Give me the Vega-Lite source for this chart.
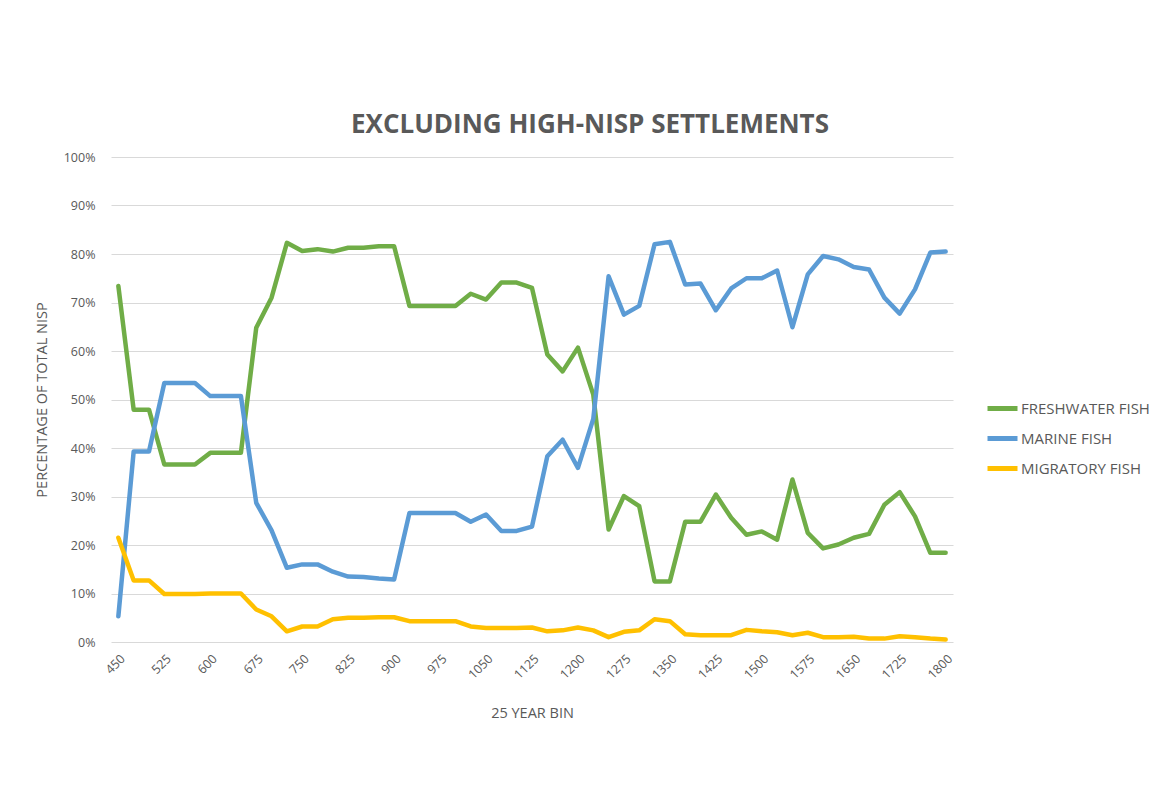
{
  "$schema": "https://vega.github.io/schema/vega-lite/v6.json",
  "width": 842,
  "height": 485,
  "autosize": {"type": "none"},
  "padding": {"left": 111, "top": 157, "right": 212, "bottom": 167},
  "background": "white",
  "config": {"view": {"stroke": null}, "font": "Open Sans"},
  "title": {"text": "EXCLUDING HIGH-NISP  SETTLEMENTS", "fontSize": 26, "fontWeight": "bold", "color": "#595959", "anchor": "middle", "frame": "group", "dx": 58, "offset": -8, "baseline": "alphabetic", "font": "Open Sans"},
  "data": {"values": [
    {"bin": 450, "FRESHWATER FISH": 0.734, "MARINE FISH": 0.053, "MIGRATORY FISH": 0.215},
    {"bin": 475, "FRESHWATER FISH": 0.479, "MARINE FISH": 0.393, "MIGRATORY FISH": 0.127},
    {"bin": 500, "FRESHWATER FISH": 0.479, "MARINE FISH": 0.393, "MIGRATORY FISH": 0.127},
    {"bin": 525, "FRESHWATER FISH": 0.366, "MARINE FISH": 0.534, "MIGRATORY FISH": 0.099},
    {"bin": 550, "FRESHWATER FISH": 0.366, "MARINE FISH": 0.534, "MIGRATORY FISH": 0.099},
    {"bin": 575, "FRESHWATER FISH": 0.366, "MARINE FISH": 0.534, "MIGRATORY FISH": 0.099},
    {"bin": 600, "FRESHWATER FISH": 0.390, "MARINE FISH": 0.507, "MIGRATORY FISH": 0.100},
    {"bin": 625, "FRESHWATER FISH": 0.390, "MARINE FISH": 0.507, "MIGRATORY FISH": 0.100},
    {"bin": 650, "FRESHWATER FISH": 0.390, "MARINE FISH": 0.507, "MIGRATORY FISH": 0.100},
    {"bin": 675, "FRESHWATER FISH": 0.648, "MARINE FISH": 0.287, "MIGRATORY FISH": 0.067},
    {"bin": 700, "FRESHWATER FISH": 0.710, "MARINE FISH": 0.230, "MIGRATORY FISH": 0.053},
    {"bin": 725, "FRESHWATER FISH": 0.823, "MARINE FISH": 0.153, "MIGRATORY FISH": 0.022},
    {"bin": 750, "FRESHWATER FISH": 0.806, "MARINE FISH": 0.160, "MIGRATORY FISH": 0.032},
    {"bin": 775, "FRESHWATER FISH": 0.810, "MARINE FISH": 0.160, "MIGRATORY FISH": 0.032},
    {"bin": 800, "FRESHWATER FISH": 0.805, "MARINE FISH": 0.145, "MIGRATORY FISH": 0.047},
    {"bin": 825, "FRESHWATER FISH": 0.813, "MARINE FISH": 0.135, "MIGRATORY FISH": 0.050},
    {"bin": 850, "FRESHWATER FISH": 0.813, "MARINE FISH": 0.134, "MIGRATORY FISH": 0.050},
    {"bin": 875, "FRESHWATER FISH": 0.816, "MARINE FISH": 0.131, "MIGRATORY FISH": 0.051},
    {"bin": 900, "FRESHWATER FISH": 0.816, "MARINE FISH": 0.129, "MIGRATORY FISH": 0.051},
    {"bin": 925, "FRESHWATER FISH": 0.693, "MARINE FISH": 0.266, "MIGRATORY FISH": 0.043},
    {"bin": 950, "FRESHWATER FISH": 0.693, "MARINE FISH": 0.266, "MIGRATORY FISH": 0.043},
    {"bin": 975, "FRESHWATER FISH": 0.693, "MARINE FISH": 0.266, "MIGRATORY FISH": 0.043},
    {"bin": 1000, "FRESHWATER FISH": 0.693, "MARINE FISH": 0.266, "MIGRATORY FISH": 0.043},
    {"bin": 1025, "FRESHWATER FISH": 0.718, "MARINE FISH": 0.248, "MIGRATORY FISH": 0.032},
    {"bin": 1050, "FRESHWATER FISH": 0.706, "MARINE FISH": 0.263, "MIGRATORY FISH": 0.029},
    {"bin": 1075, "FRESHWATER FISH": 0.741, "MARINE FISH": 0.229, "MIGRATORY FISH": 0.029},
    {"bin": 1100, "FRESHWATER FISH": 0.741, "MARINE FISH": 0.229, "MIGRATORY FISH": 0.029},
    {"bin": 1125, "FRESHWATER FISH": 0.730, "MARINE FISH": 0.238, "MIGRATORY FISH": 0.030},
    {"bin": 1150, "FRESHWATER FISH": 0.593, "MARINE FISH": 0.383, "MIGRATORY FISH": 0.022},
    {"bin": 1175, "FRESHWATER FISH": 0.558, "MARINE FISH": 0.417, "MIGRATORY FISH": 0.024},
    {"bin": 1200, "FRESHWATER FISH": 0.607, "MARINE FISH": 0.359, "MIGRATORY FISH": 0.030},
    {"bin": 1225, "FRESHWATER FISH": 0.510, "MARINE FISH": 0.460, "MIGRATORY FISH": 0.024},
    {"bin": 1250, "FRESHWATER FISH": 0.232, "MARINE FISH": 0.754, "MIGRATORY FISH": 0.010},
    {"bin": 1275, "FRESHWATER FISH": 0.301, "MARINE FISH": 0.675, "MIGRATORY FISH": 0.021},
    {"bin": 1300, "FRESHWATER FISH": 0.280, "MARINE FISH": 0.693, "MIGRATORY FISH": 0.024},
    {"bin": 1325, "FRESHWATER FISH": 0.125, "MARINE FISH": 0.820, "MIGRATORY FISH": 0.047},
    {"bin": 1350, "FRESHWATER FISH": 0.125, "MARINE FISH": 0.825, "MIGRATORY FISH": 0.043},
    {"bin": 1375, "FRESHWATER FISH": 0.248, "MARINE FISH": 0.737, "MIGRATORY FISH": 0.016},
    {"bin": 1400, "FRESHWATER FISH": 0.248, "MARINE FISH": 0.739, "MIGRATORY FISH": 0.014},
    {"bin": 1425, "FRESHWATER FISH": 0.304, "MARINE FISH": 0.684, "MIGRATORY FISH": 0.014},
    {"bin": 1450, "FRESHWATER FISH": 0.256, "MARINE FISH": 0.729, "MIGRATORY FISH": 0.014},
    {"bin": 1475, "FRESHWATER FISH": 0.221, "MARINE FISH": 0.750, "MIGRATORY FISH": 0.025},
    {"bin": 1500, "FRESHWATER FISH": 0.228, "MARINE FISH": 0.750, "MIGRATORY FISH": 0.022},
    {"bin": 1525, "FRESHWATER FISH": 0.211, "MARINE FISH": 0.766, "MIGRATORY FISH": 0.020},
    {"bin": 1550, "FRESHWATER FISH": 0.335, "MARINE FISH": 0.649, "MIGRATORY FISH": 0.014},
    {"bin": 1575, "FRESHWATER FISH": 0.225, "MARINE FISH": 0.758, "MIGRATORY FISH": 0.019},
    {"bin": 1600, "FRESHWATER FISH": 0.193, "MARINE FISH": 0.796, "MIGRATORY FISH": 0.010},
    {"bin": 1625, "FRESHWATER FISH": 0.201, "MARINE FISH": 0.789, "MIGRATORY FISH": 0.010},
    {"bin": 1650, "FRESHWATER FISH": 0.215, "MARINE FISH": 0.773, "MIGRATORY FISH": 0.011},
    {"bin": 1675, "FRESHWATER FISH": 0.223, "MARINE FISH": 0.768, "MIGRATORY FISH": 0.007},
    {"bin": 1700, "FRESHWATER FISH": 0.283, "MARINE FISH": 0.710, "MIGRATORY FISH": 0.007},
    {"bin": 1725, "FRESHWATER FISH": 0.309, "MARINE FISH": 0.677, "MIGRATORY FISH": 0.012},
    {"bin": 1750, "FRESHWATER FISH": 0.259, "MARINE FISH": 0.727, "MIGRATORY FISH": 0.010},
    {"bin": 1775, "FRESHWATER FISH": 0.184, "MARINE FISH": 0.803, "MIGRATORY FISH": 0.007},
    {"bin": 1800, "FRESHWATER FISH": 0.184, "MARINE FISH": 0.805, "MIGRATORY FISH": 0.005}
  ]},
  "transform": [{"fold": ["FRESHWATER FISH", "MARINE FISH", "MIGRATORY FISH"], "as": ["series", "pct"]}],
  "mark": {"type": "line", "strokeWidth": 4.5, "strokeJoin": "round", "strokeCap": "round"},
  "encoding": {
    "x": {
      "field": "bin", "type": "quantitative",
      "scale": {"domain": [438, 1812], "nice": false, "zero": false},
      "axis": {
        "values": [450, 525, 600, 675, 750, 825, 900, 975, 1050, 1125, 1200, 1275, 1350, 1425, 1500, 1575, 1650, 1725, 1800],
        "format": "d", "title": "25 YEAR BIN", "labelAngle": -45, "grid": false, "domain": false, "ticks": false, "tickSize": 0,
        "labelPadding": 10, "labelFontSize": 12.5, "labelColor": "#595959", "labelFlush": false, "labelOverlap": false,
        "titleFontSize": 14.5, "titleFontWeight": "normal", "titleColor": "#595959", "titlePadding": 25
      }
    },
    "y": {
      "field": "pct", "type": "quantitative",
      "scale": {"domain": [0, 1], "nice": false},
      "axis": {
        "values": [0, 0.1, 0.2, 0.3, 0.4, 0.5, 0.6, 0.7, 0.8, 0.9, 1],
        "format": ".0%", "title": "PERCENTAGE OF TOTAL NISP", "grid": true, "gridColor": "#d9d9d9", "gridWidth": 1,
        "domain": false, "ticks": false, "tickSize": 0, "labelPadding": 16, "labelFontSize": 12.5, "labelColor": "#595959",
        "titleFontSize": 14.5, "titleFontWeight": "normal", "titleColor": "#595959", "titlePadding": 14
      }
    },
    "color": {
      "field": "series", "type": "nominal",
      "scale": {"domain": ["FRESHWATER FISH", "MARINE FISH", "MIGRATORY FISH"], "range": ["#70AD47", "#5B9BD5", "#FFC000"]},
      "legend": {
        "title": null, "orient": "none", "legendX": 874, "legendY": 234, "padding": 0,
        "symbolType": "stroke", "symbolSize": 900, "symbolStrokeWidth": 5, "labelOffset": 1, "rowPadding": 2,
        "labelFontSize": 15, "labelColor": "#595959"
      }
    }
  }
}
